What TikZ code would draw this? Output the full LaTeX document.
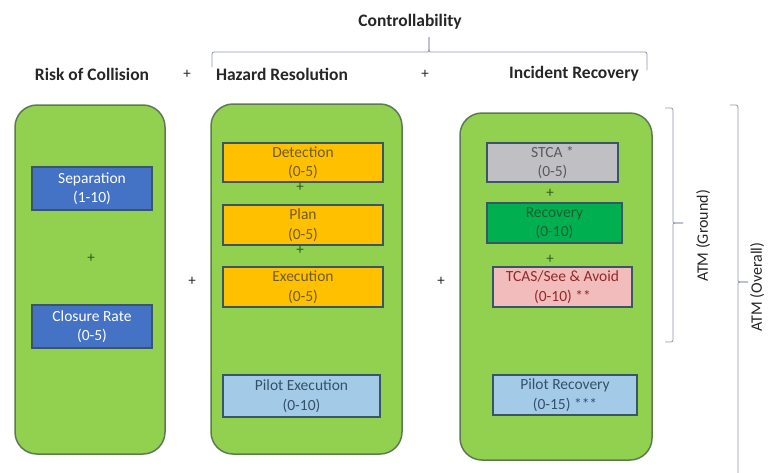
\documentclass[tikz,border=0pt]{standalone}
\usepackage{fontspec}
\setmainfont{Carlito}
\definecolor{boxgreen}{HTML}{92D050}
\definecolor{outerborder}{HTML}{5E7A52}
\definecolor{innerborder}{HTML}{3A5566}
\definecolor{bluebox}{HTML}{4472C4}
\definecolor{orangebox}{HTML}{FFC000}
\definecolor{graybox}{HTML}{BFBFC4}
\definecolor{recbox}{HTML}{00B050}
\definecolor{pinkbox}{HTML}{F2BCBC}
\definecolor{lightblue}{HTML}{A3CBE8}
\definecolor{hdrtext}{HTML}{262626}
\definecolor{bracegray}{HTML}{8E96A8}
\definecolor{orangetext}{HTML}{6E5A2E}
\definecolor{graytext}{HTML}{5A5A5A}
\definecolor{rectext}{HTML}{1E5E2E}
\definecolor{pinktext}{HTML}{8E2A2A}
\definecolor{pilottext}{HTML}{34506A}
\definecolor{plusgreen}{HTML}{2E5A1E}
\newcommand\myboxfont{\fontsize{15.5}{19.5}\selectfont}
\newcommand\myhdrfont{\fontsize{17.5}{20}\selectfont\bfseries}
\newcommand\myplusfont{\fontsize{15}{15}\selectfont}
\newcommand\mylblfont{\fontsize{16}{18}\selectfont}
\begin{document}
\begin{tikzpicture}[x=1pt,y=-1pt,
  outerbox/.style={draw=outerborder, line width=1.5pt, fill=boxgreen, rounded corners=22pt, inner sep=0pt},
  innerbox/.style={draw=innerborder, line width=1.3pt, inner sep=0pt, align=center, font=\myboxfont},
  hdr/.style={font=\myhdrfont, text=hdrtext, inner sep=0pt},
  plusg/.style={font=\myplusfont, inner sep=0pt, text=plusgreen},
  plusk/.style={font=\myplusfont, inner sep=0pt, text=hdrtext},
  bracepath/.style={draw=bracegray, line width=0.8pt, rounded corners=2pt},
  bracelbl/.style={font=\mylblfont, text=hdrtext, rotate=90, inner sep=0pt}]
\useasboundingbox (0,0) rectangle (768,472);

% headers
\node[hdr] (ctrl) at (410,22) {Controllability};
\node[hdr] (risk) at (92,74) {Risk of Collision};
\node[plusk] (p1) at (187,74) {+};
\node[hdr] (haz) at (282,74) {Hazard Resolution};
\node[plusk] (p2) at (425,74) {+};
\node[hdr] (inc) at (574,74) {Incident Recovery};

% top brace
\coordinate (tl) at (212,67);
\coordinate (tr) at (647,70);
\coordinate (tip) at (429,37);
\draw[bracepath] (tl) |- (426,52) .. controls (429,52) .. (tip);
\draw[bracepath] (tr) |- (432,52) .. controls (429,52) .. (tip);

% outer boxes
\node[outerbox, minimum width=150, minimum height=349] (b1) at (90,279.5) {};
\node[outerbox, minimum width=191, minimum height=350] (b2) at (306.5,279) {};
\node[outerbox, minimum width=192, minimum height=347] (b3) at (556,286.5) {};

% box 1
\node[innerbox, fill=bluebox, text=white, minimum width=120, minimum height=43] (sep) at (92,188.5) {Separation\\(1-10)};
\node[plusg] (pa) at (91,258) {+};
\node[innerbox, fill=bluebox, text=white, minimum width=120, minimum height=43] (clo) at (92,326.5) {Closure Rate\\(0-5)};

% box 2
\node[innerbox, fill=orangebox, text=orangetext, minimum width=160, minimum height=39] (det) at (303,162.5) {Detection\\(0-5)};
\node[plusg] (pb) at (300,187) {+};
\node[innerbox, fill=orangebox, text=orangetext, minimum width=160, minimum height=40] (plan) at (303,225) {Plan\\(0-5)};
\node[plusg] (pc) at (300,250) {+};
\node[innerbox, fill=orangebox, text=orangetext, minimum width=160, minimum height=40] (exe) at (303,287) {Execution\\(0-5)};
\node[innerbox, fill=lightblue, text=pilottext, minimum width=157, minimum height=42] (pex) at (301.5,396) {Pilot Execution\\(0-10)};

% box 3
\node[innerbox, fill=graybox, text=graytext, minimum width=131, minimum height=39] (stca) at (552.5,162.5) {STCA *\\(0-5)};
\node[plusg] (pd) at (550,193) {+};
\node[innerbox, fill=recbox, text=rectext, minimum width=135, minimum height=40] (rec) at (554.5,223) {Recovery\\(0-10)};
\node[plusg] (pe) at (550,259) {+};
\node[innerbox, fill=pinkbox, text=pinktext, minimum width=139, minimum height=40] (tcas) at (562.5,287) {TCAS/See \& Avoid\\(0-10) **};
\node[innerbox, fill=lightblue, text=pilottext, minimum width=144, minimum height=40] (prec) at (565,395) {Pilot Recovery\\(0-15) ***};

% plus between boxes
\node[plusk] (pf) at (192,281) {+};
\node[plusk] (pg) at (441,281) {+};

% right braces
\coordinate (g1) at (665,108);
\coordinate (g2) at (665,342);
\coordinate (gt) at (683,223);
\draw[bracepath] (g1) -| (673,220) .. controls (673,223) .. (gt);
\draw[bracepath] (g2) -| (673,226) .. controls (673,223) .. (gt);
\node[bracelbl] (gl) at (703,236) {ATM (Ground)};

\coordinate (o1) at (730,105);
\coordinate (o2) at (738,480);
\coordinate (ot) at (748,282);
\draw[bracepath] (o1) -| (738,279) .. controls (738,282) .. (ot);
\draw[bracepath] (o2) -- (738,285) .. controls (738,282) .. (ot);
\node[bracelbl] (ol) at (757,287) {ATM (Overall)};
\end{tikzpicture}
\end{document}
